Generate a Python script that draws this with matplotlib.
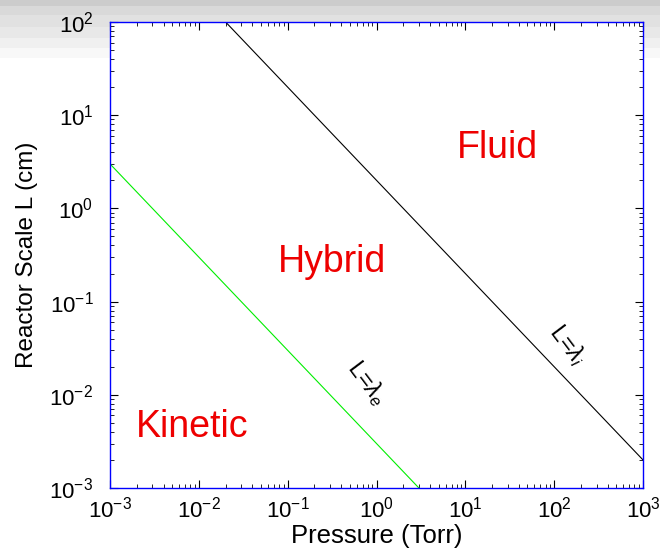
import matplotlib
matplotlib.use("Agg")
import matplotlib.pyplot as plt
import numpy as np

plt.rcParams["font.family"] = ["Liberation Sans", "DejaVu Sans"]
plt.rcParams["mathtext.fontset"] = "custom"
plt.rcParams["mathtext.rm"] = "Liberation Sans"
plt.rcParams["mathtext.it"] = "Liberation Sans:italic"

# boundary lines (slope -1 in log-log)
fluid_p = [0.02, 1000]
fluid_L = [100, 0.002]
kin_p = [0.001, 3]
kin_L = [3, 0.001]

region_names = ["Fluid", "Hybrid", "Kinetic"]
region_p = [22.7, 0.316, 0.0084]
region_L = [4.45, 0.266, 0.0045]

fig = plt.figure(figsize=(6.6, 5.54), dpi=100)

# grey slide banding at the top
bg = fig.add_axes([0, 0, 1, 1], zorder=-10)
rows = np.ones((554, 1))
bands = [(0, 6, 0.80), (6, 15, 0.85), (15, 27, 0.88), (27, 38, 0.91), (38, 48, 0.94), (48, 58, 0.97)]
for a, b, v in bands:
    rows[a:b] = v
bg.imshow(np.repeat(rows, 660, axis=1), cmap="gray", vmin=0, vmax=1, aspect="auto")
bg.axis("off")

ax = fig.add_axes([0.1667, 0.1191, 0.8076, 0.8412])
ax.set_xscale("log")
ax.set_yscale("log")
ax.set_xlim(1e-3, 1e3)
ax.set_ylim(1e-3, 1e2)

ax.plot(fluid_p, fluid_L, color="black", lw=0.8)
ax.plot(kin_p, kin_L, color="#00ee00", lw=0.8)

for name, p, L in zip(region_names, region_p, region_L):
    ax.text(p, L, name, color="#ee0000", fontsize=27, ha="center", va="center")

ax.text(0.78, 0.0134, r"L=$\lambda_e$", fontsize=17, rotation=-53, ha="center", va="center")
ax.text(143, 0.034, r"L=$\lambda_i$", fontsize=17, rotation=-53, ha="center", va="center")

ax.set_xlabel("Pressure (Torr)", fontsize=18.5, labelpad=1)
ax.set_ylabel("Reactor Scale L (cm)", fontsize=17.5, labelpad=8)

ax.tick_params(which="both", direction="in", top=True, right=True, labelsize=16, color="black")
ax.tick_params(which="major", length=6)
ax.tick_params(which="minor", length=3)
ax.tick_params(axis="y", pad=12)
ax.tick_params(axis="x", pad=6)
for s in ax.spines.values():
    s.set_color("#0000ff")
    s.set_linewidth(1.0)

fig.savefig("out.png", dpi=100)
